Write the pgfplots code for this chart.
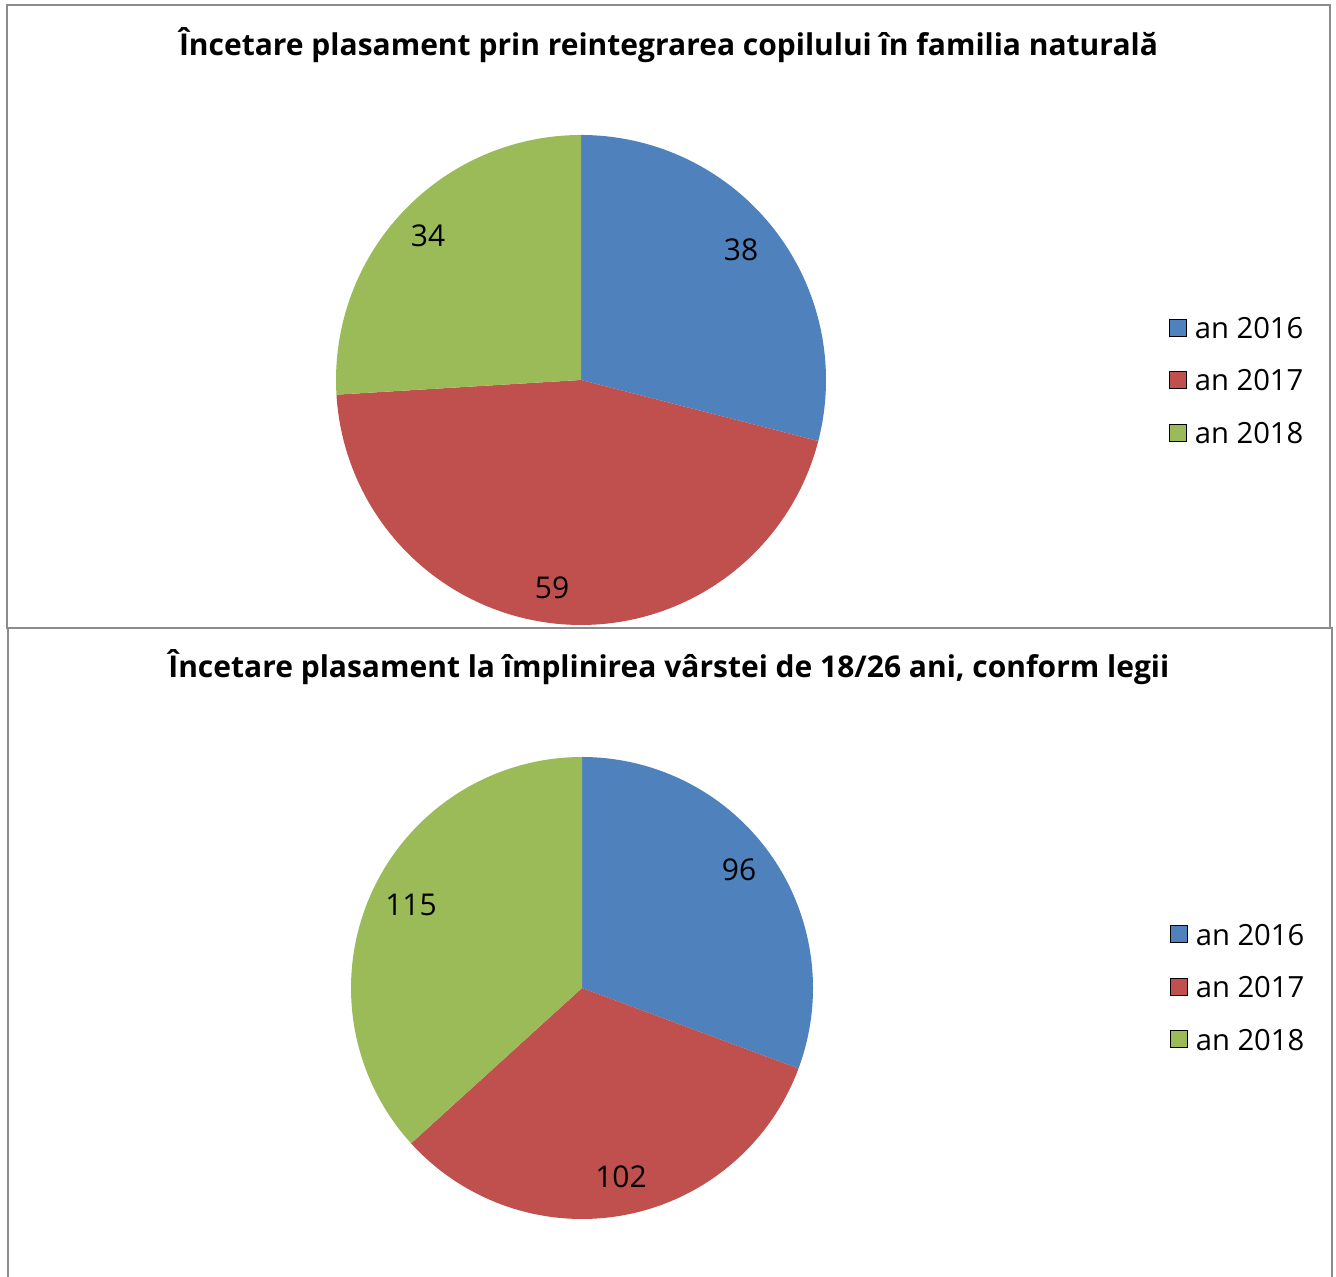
\documentclass[border=0pt]{standalone}
\usepackage{pgfplots}
\pgfplotsset{compat=1.18}
\usepackage{pgfplotstable}
\usepackage{fontspec}
\setmainfont{Open Sans}
\definecolor{c16}{HTML}{4F81BD}
\definecolor{c17}{HTML}{C0504D}
\definecolor{c18}{HTML}{9BBB59}
\definecolor{frame}{HTML}{8C8C8C}

\pgfplotstableread{
year value
2016 38
2017 59
2018 34
}\topdata
\pgfplotstableread{
year value
2016 96
2017 102
2018 115
}\botdata

\pgfplotsset{
  pieaxis/.style={
    hide axis, clip=false,
    xmin=-1, xmax=1, ymin=-1, ymax=1,
    anchor=center,
    every axis title shift=0pt,
    legend style={draw=none, fill=none, inner sep=0pt, outer sep=0pt,
      anchor=west, column sep=4pt, row sep=15.25pt,
      nodes={inner sep=0pt, anchor=west, text height=11pt, text depth=0pt},
      font=\fontsize{14.6}{18}\selectfont},
    legend cell align=left,
    title style={anchor=base, font=\bfseries\fontsize{15}{18}\selectfont},
  },
  sq/.style={legend image code/.code={\fill[##1] (0pt,-4.25pt) rectangle (8.5pt,4.25pt);}},
}

\begin{document}
\begin{tikzpicture}
\path[use as bounding box] (0pt,0pt) rectangle (668pt,638.5pt);
% panel frames
\draw[frame, line width=1pt] (3.5pt,324.5pt) rectangle (665pt,636pt);
\draw[frame, line width=1pt] (4pt,-2pt) -- (4pt,324.5pt) -- (666pt,324.5pt) -- (666pt,-2pt);

% angles, top chart
\pgfplotstablegetelem{0}{value}\of\topdata \pgfmathsetmacro\tva{\pgfplotsretval}
\pgfplotstablegetelem{1}{value}\of\topdata \pgfmathsetmacro\tvb{\pgfplotsretval}
\pgfplotstablegetelem{2}{value}\of\topdata \pgfmathsetmacro\tvc{\pgfplotsretval}
\pgfmathsetmacro\ttot{\tva+\tvb+\tvc}
\pgfmathsetmacro\tA{90}
\pgfmathsetmacro\tB{90-360*(\tva/\ttot)}
\pgfmathsetmacro\tC{\tB-360*(\tvb/\ttot)}
\pgfmathsetmacro\tD{-270}

\begin{axis}[pieaxis, at={(290.5pt,448.5pt)}, x=122.5pt, y=122.5pt,
  title={Încetare plasament prin reintegrarea copilului în familia naturală},
  title style={at={(axis description cs:0.6786,1.163)}},
  legend style={at={(axis description cs:1.70,0.5)}}]
\addplot[fill=c16, draw=none, domain=\tB:\tA, samples=120, forget plot] ({cos(x)},{sin(x)}) -- (axis cs:0,0) -- cycle;
\addplot[fill=c17, draw=none, domain=\tC:\tB, samples=120, forget plot] ({cos(x)},{sin(x)}) -- (axis cs:0,0) -- cycle;
\addplot[fill=c18, draw=none, domain=\tD:\tC, samples=120, forget plot] ({cos(x)},{sin(x)}) -- (axis cs:0,0) -- cycle;
\addlegendimage{sq, fill=c16}\addlegendentry{an 2016}
\addlegendimage{sq, fill=c17}\addlegendentry{an 2017}
\addlegendimage{sq, fill=c18}\addlegendentry{an 2018}
\node[font=\fontsize{15}{18}\selectfont] at (axis cs:0.653,0.531) {38};
\node[font=\fontsize{15}{18}\selectfont] at (axis cs:-0.118,-0.849) {59};
\node[font=\fontsize{15}{18}\selectfont] at (axis cs:-0.624,0.588) {34};
\end{axis}

% angles, bottom chart
\pgfplotstablegetelem{0}{value}\of\botdata \pgfmathsetmacro\bva{\pgfplotsretval}
\pgfplotstablegetelem{1}{value}\of\botdata \pgfmathsetmacro\bvb{\pgfplotsretval}
\pgfplotstablegetelem{2}{value}\of\botdata \pgfmathsetmacro\bvc{\pgfplotsretval}
\pgfmathsetmacro\btot{\bva+\bvb+\bvc}
\pgfmathsetmacro\bA{90}
\pgfmathsetmacro\bB{90-360*(\bva/\btot)}
\pgfmathsetmacro\bC{\bB-360*(\bvb/\btot)}
\pgfmathsetmacro\bD{-270}

\begin{axis}[pieaxis, at={(291pt,144.5pt)}, x=115.5pt, y=115.5pt,
  title={Încetare plasament la împlinirea vârstei de 18/26 ani, conform legii},
  title style={at={(axis description cs:0.688,1.171)}},
  legend style={at={(axis description cs:1.7727,0.503)}}]
\addplot[fill=c16, draw=none, domain=\bB:\bA, samples=120, forget plot] ({cos(x)},{sin(x)}) -- (axis cs:0,0) -- cycle;
\addplot[fill=c17, draw=none, domain=\bC:\bB, samples=120, forget plot] ({cos(x)},{sin(x)}) -- (axis cs:0,0) -- cycle;
\addplot[fill=c18, draw=none, domain=\bD:\bC, samples=120, forget plot] ({cos(x)},{sin(x)}) -- (axis cs:0,0) -- cycle;
\addlegendimage{sq, fill=c16}\addlegendentry{an 2016}
\addlegendimage{sq, fill=c17}\addlegendentry{an 2017}
\addlegendimage{sq, fill=c18}\addlegendentry{an 2018}
\node[font=\fontsize{15}{18}\selectfont] at (axis cs:0.680,0.511) {96};
\node[font=\fontsize{15}{18}\selectfont] at (axis cs:0.169,-0.818) {102};
\node[font=\fontsize{15}{18}\selectfont] at (axis cs:-0.740,0.359) {115};
\end{axis}
\end{tikzpicture}
\end{document}
